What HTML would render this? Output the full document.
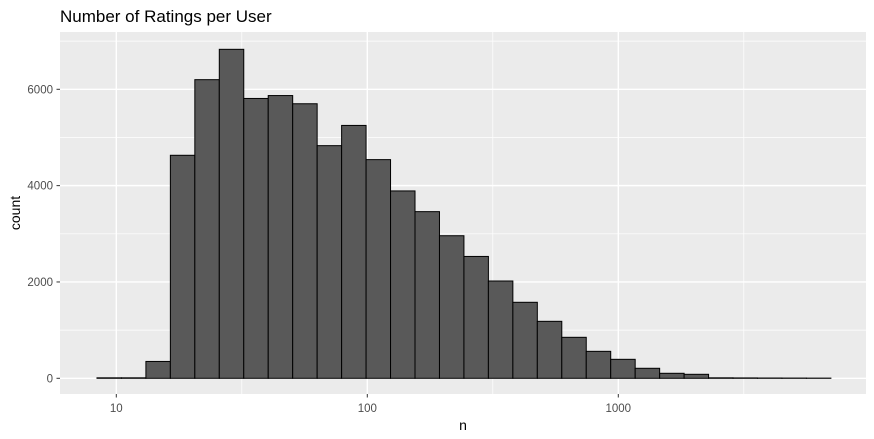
<!DOCTYPE html>
<html><head><meta charset="utf-8"><style>
body{margin:0;background:#fff;}
svg{display:block;font-family:"Liberation Sans",Arial,sans-serif;}
</style></head><body>
<svg id="chart" width="874" height="439" viewBox="0 0 874 439" xmlns="http://www.w3.org/2000/svg">
<text x="60" y="22" font-size="17" fill="#000">Number of Ratings per User</text>
<rect x="60" y="32" width="806" height="362" fill="#ebebeb"/>
<g id="grid"></g>
<g id="bars"></g>
<g id="axes"></g>
<text x="463" y="430" font-size="14" text-anchor="middle" fill="#000">n</text>
<text transform="translate(20,213) rotate(-90)" font-size="14" text-anchor="middle" fill="#000">count</text>
</svg>
<script>
const binCounts = [10, 10, 350, 4630, 6200, 6830, 5810, 5870, 5700, 4830, 5250, 4540, 3890, 3460, 2960, 2530, 2020, 1578, 1183, 851, 560, 394, 208, 104, 83, 10, 8, 6, 5, 4];
const binLogStart = 0.923;
const binLogEnd = 3.847;
const yTicks = [0, 2000, 4000, 6000];
const yMinor = [1000, 3000, 5000, 7000];
const xTicks = [10, 100, 1000];
const xTickLabels = ["10", "100", "1000"];
const xMinorLog = [1.5, 2.5, 3.5];

const NS = "http://www.w3.org/2000/svg";
function xs(logv){ return 116.3 + (logv - 1) * 251; }
function ys(v){ return 378.3 - v * 0.048167; }
function mk(tag, attrs, parent){ const e = document.createElementNS(NS, tag); for (const k in attrs) e.setAttribute(k, attrs[k]); parent.appendChild(e); return e; }
const grid = document.getElementById('grid'), bars = document.getElementById('bars'), axes = document.getElementById('axes');

yMinor.forEach(v => { const l = mk('line', {x1:60, x2:866, y1:ys(v), y2:ys(v), stroke:'#fff', 'stroke-width':0.7}, grid);
  
   });
xMinorLog.forEach(v => { const l = mk('line', {x1:xs(v), x2:xs(v), y1:32, y2:394, stroke:'#fff', 'stroke-width':0.7}, grid);
  
   });
yTicks.forEach(v => { const y = ys(v);
  const l = mk('line', {x1:60, x2:866, y1:y, y2:y, stroke:'#fff', 'stroke-width':1.4}, grid);
  
  
  const t = mk('line', {x1:56.5, x2:60, y1:y, y2:y, stroke:'#333', 'stroke-width':1}, axes);
  
  
  const tx = mk('text', {x:53, y:y+4, 'font-size':11.5, 'text-anchor':'end', fill:'#4d4d4d'}, axes);
  tx.textContent = String(v);
  
   });
xTicks.forEach((v, i) => { const x = xs(Math.log10(v));
  const l = mk('line', {x1:x, x2:x, y1:32, y2:394, stroke:'#fff', 'stroke-width':1.4}, grid);
  
  
  const t = mk('line', {x1:x, x2:x, y1:394, y2:397.5, stroke:'#333', 'stroke-width':1}, axes);
  
  
  const tx = mk('text', {x:x, y:412, 'font-size':11.5, 'text-anchor':'middle', fill:'#4d4d4d'}, axes);
  tx.textContent = xTickLabels[i];
  
   });

const bw = (binLogEnd - binLogStart) / binCounts.length;
binCounts.forEach((c, i) => {
  const x0 = xs(binLogStart + i * bw), x1 = xs(binLogStart + (i + 1) * bw);
  const y = ys(c);
  const r = mk('rect', {x:x0, y:y, width:x1 - x0, height:ys(0) - y, fill:'#595959', stroke:'#000', 'stroke-width':1}, bars);
  
  
});
</script>
</body></html>
